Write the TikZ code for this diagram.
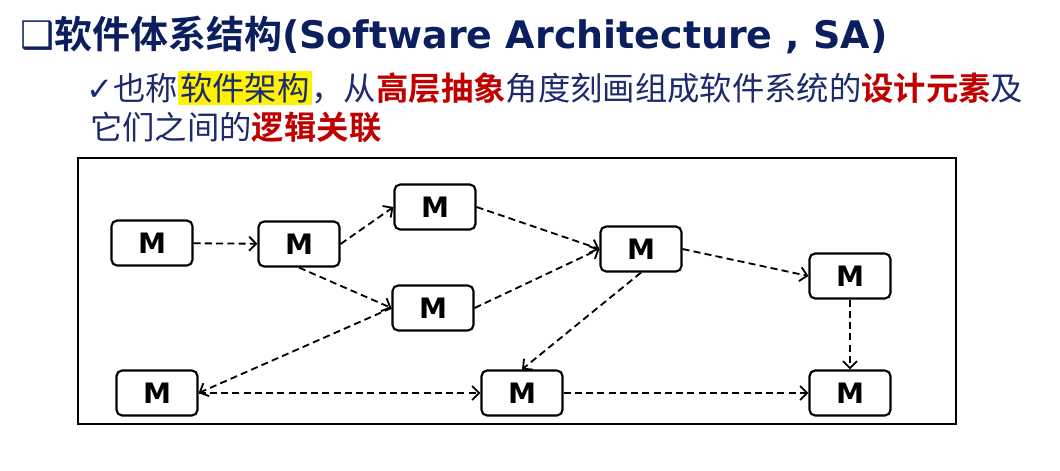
\documentclass[tikz,border=0pt]{standalone}
\usepackage{fontspec}
\setmainfont{Noto Sans CJK SC}[BoldFont={Noto Sans CJK SC Bold}]
\newfontfamily\vfont{DejaVu Sans}
\usetikzlibrary{arrows.meta}
\definecolor{navy}{HTML}{0B1F5F}
\definecolor{bodyblue}{HTML}{1B2B6B}
\definecolor{darkred}{HTML}{C00000}
\setlength{\fboxsep}{1.5pt}

\begin{document}
\begin{tikzpicture}[x=0.025cm, y=-0.025cm,
	mod/.style={draw=black, line width=1.5pt, rounded corners=4pt, fill=white, minimum width=2.025cm, minimum height=1.125cm, inner sep=0pt, font=\vfont\bfseries\fontsize{20}{22}\selectfont},
	link/.style={draw=black, line width=1.3pt, dash pattern=on 5pt off 3pt, -{Straight Barb[length=5pt,width=10pt,line width=1.3pt]}}]
			\useasboundingbox (0,0) rectangle (1060,470);
			\node[anchor=west, inner sep=0pt, text=navy, font=\bfseries\fontsize{27}{30}\selectfont] (title) at (20,35) {{\vfont\mdseries ❑}软件体系结构{\vfont (Software Architecture , SA)}};
			\node[anchor=west, inner sep=0pt, text=bodyblue, font=\fontsize{23}{27}\selectfont] (l1) at (86,88) {{\vfont ✓}也称\colorbox{yellow}{软件架构}，从{\color{darkred}\bfseries 高层抽象}角度刻画组成软件系统的{\color{darkred}\bfseries 设计元素}及};
			\node[anchor=west, inner sep=0pt, text=bodyblue, font=\fontsize{23}{27}\selectfont] (l2) at (90,127) {它们之间的{\color{darkred}\bfseries 逻辑关联}};
			
			\draw[line width=1.5pt] (78,158) rectangle (956,424);
			
			\node[mod] (m1) at (152,243) {M};
			\node[mod] (m2) at (299,244) {M};
			\node[mod] (m3) at (435,207) {M};
			\node[mod] (m4) at (433,308) {M};
			\node[mod] (m5) at (641,249) {M};
			\node[mod] (m6) at (850,276) {M};
			\node[mod] (m7) at (157,393) {M};
			\node[mod] (m8) at (522,393) {M};
			\node[mod] (m9) at (850,393) {M};
			
			\path (m1) edge[link] (m2);
			\path (m2.east) edge[link] (m3.west);
			\path (m2.south) edge[link] (m4.west);
			\path (m3.east) edge[link] (m5.west);
			\path (m4.east) edge[link] (m5.west);
			\path (m4.west) edge[link] (m7.east);
			\path (m7) edge[link] (m8);
			\path (m5.east) edge[link] (m6.west);
			\path (m5.south) edge[link] (m8.north);
			\path (m6) edge[link] (m9);
			\path (m8) edge[link] (m9);
			\end{tikzpicture}
\end{document}
